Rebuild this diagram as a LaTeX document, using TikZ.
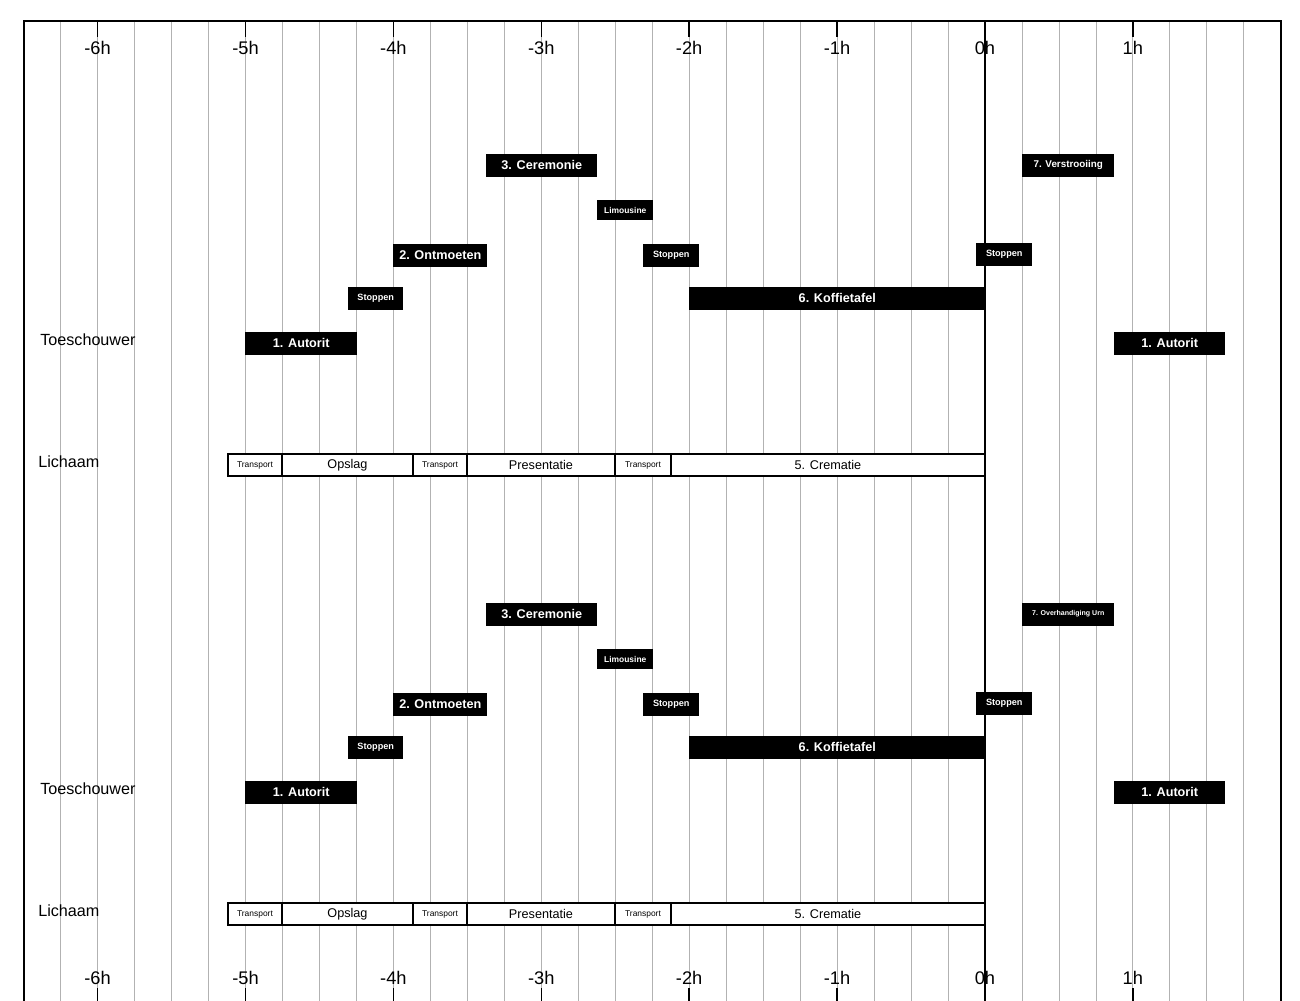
\documentclass[tikz,border=0pt]{standalone}
\usepackage{fontspec}
\setmainfont{Liberation Sans}
\usepackage{tikz}
\usetikzlibrary{positioning}

\newcommand{\hrlen}{3.6975}

\begin{document}
\begin{tikzpicture}[
    actBox/.style={rectangle, fill=black, text=white, inner sep=0pt, minimum height=0.575cm, anchor=west, font=\fontsize{9}{10}\selectfont\bfseries},
    smallAct/.style={actBox, font=\fontsize{6.5}{7}\selectfont\bfseries},
    bodyBox/.style={rectangle, draw=black, line width=1pt, fill=white, inner sep=0pt, outer sep=0pt, minimum height=0.55cm, anchor=west, font=\fontsize{9}{10}\selectfont},
    tinyBody/.style={bodyBox, font=\fontsize{6}{7}\selectfont},
    gridLine/.style={gray!60, line width=0.6pt},
    rowLabel/.style={anchor=west, inner sep=0pt, font=\fontsize{11.5}{13}\selectfont}
]
    \useasboundingbox (-24.625,0) rectangle (7.875,-25.025);

    % Quarter hour grid
    \foreach \q in {-26,...,8}
        \draw[gridLine] (\q*0.924375,-0.525) -- (\q*0.924375,-25.1);

    % Frame and zero line
    \draw[line width=1.4pt] (-24.034,-25.1) -- (-24.034,-0.525) -- (7.395,-0.525) -- (7.395,-25.1);
    \draw[line width=1.4pt] (-24.034,-25.1) -- (7.395,-25.1);
    \draw[line width=1.6pt] (0,-0.525) -- (0,-25.1);

    % Hour ticks and labels
    \foreach \h [count=\i] in {-6,...,1} {
        \draw[line width=1pt] (\h*\hrlen,-0.525) -- ++(0,-0.4);
        \draw[line width=1pt] (\h*\hrlen,-25.1) -- ++(0,0.4);
        \node[font=\fontsize{13}{14}\selectfont] (htop\i) at (\h*\hrlen,-1.2) {\h h};
        \node[font=\fontsize{13}{14}\selectfont] (hbot\i) at (\h*\hrlen,-24.45) {\h h};
    }

    % Two timelines
    \foreach \s/\dy/\last in {a/0/{7. Verstrooiing}, b/-11.225/{\fontsize{5}{6}\selectfont 7. Overhandiging Urn}} {
    \begin{scope}[yshift=\dy cm]
        % Mourners
        \node[actBox, minimum width=2.775cm] (cer\s) at (-12.475,-4.125) {3. Ceremonie};
        \node[actBox, minimum width=2.3cm, font=\fontsize{7}{8}\selectfont\bfseries] (ver\s) at (0.925,-4.125) {\last};
        \node[actBox, minimum width=1.4cm, minimum height=0.5cm, font=\fontsize{6}{7}\selectfont\bfseries] (lim\s) at (-9.7,-5.25) {Limousine};
        \node[actBox, minimum width=2.35cm] (ont\s) at (-14.8,-6.375) {2. Ontmoeten};
        \node[smallAct, minimum width=1.4cm] (stopa\s) at (-8.55,-6.375) {Stoppen};
        \node[smallAct, minimum width=1.4cm] (stopb\s) at (-0.225,-6.35) {Stoppen};
        \node[smallAct, minimum width=1.375cm] (stopc\s) at (-15.925,-7.45) {Stoppen};
        \node[actBox, minimum width=7.4cm] (kof\s) at (-7.4,-7.45) {6. Koffietafel};
        \node[actBox, minimum width=2.8cm] (auta\s) at (-18.5,-8.575) {1. Autorit};
        \node[actBox, minimum width=2.775cm] (autb\s) at (3.225,-8.575) {1. Autorit};
        \node[rowLabel] (obs\s) at (-23.625,-8.5) {Toeschouwer};

        % Body
        \node[rowLabel] (body\s) at (-23.675,-11.55) {Lichaam};
        \node[tinyBody, minimum width=1.35cm] (tra1\s) at (-18.925,-11.625) {Transport};
        \node[bodyBox, minimum width=3.275cm] (ops\s) at (tra1\s.east) {Opslag};
        \node[tinyBody, minimum width=1.35cm] (tra2\s) at (ops\s.east) {Transport};
        \node[bodyBox, minimum width=3.7cm] (pre\s) at (tra2\s.east) {Presentatie};
        \node[tinyBody, minimum width=1.4cm] (tra3\s) at (pre\s.east) {Transport};
        \node[bodyBox, minimum width=7.85cm] (cre\s) at (tra3\s.east) {5. Crematie};
    \end{scope}
    }
\end{tikzpicture}
\end{document}
